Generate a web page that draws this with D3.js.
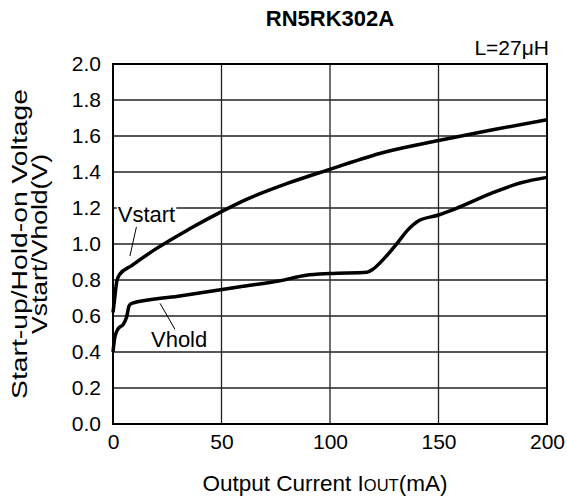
<!DOCTYPE html>
<html><head><meta charset="utf-8">
<script src="https://cdn.jsdelivr.net/npm/d3@7"></script>
<style>body{margin:0;background:#fff}svg{display:block}text{font-family:"Liberation Sans",Arial,Helvetica,sans-serif;fill:#000}</style>
</head><body><svg id="c" width="567" height="503"></svg>
<script>
const xTicks=[0,50,100,150,200];
const yTicks=[0.0,0.2,0.4,0.6,0.8,1.0,1.2,1.4,1.6,1.8,2.0];
const vstartI=[0,0.8,1.7,3,8.6,19.4,34.7,50,60,80,100,125,150,175,200];
const vstartV=[0.62,0.70,0.79,0.83,0.88,0.97,1.08,1.18,1.24,1.335,1.415,1.51,1.575,1.635,1.69];
const vholdI=[0,0.9,2.4,4.8,6.3,7.4,8.6,30,60,77,89,100,117,120,125,131,136,140.7,150,158,174,188,200];
const vholdV=[0.40,0.485,0.53,0.555,0.596,0.655,0.67,0.71,0.765,0.796,0.826,0.836,0.843,0.862,0.92,1.005,1.08,1.128,1.161,1.197,1.28,1.34,1.37];

const svg=d3.select("#c");
const L=113,R=547,T=64,B=424;
const x=d3.scaleLinear().domain([0,200]).range([L,R]);
const y=d3.scaleLinear().domain([0,2]).range([B,T]);

// grid
const g=svg.append("g");
g.selectAll(".gx").data(xTicks.slice(1,-1)).enter().append("line")
 .attr("x1",d=>x(d)).attr("x2",d=>x(d)).attr("y1",T).attr("y2",B).attr("stroke","#222").attr("stroke-width",1.3);
g.selectAll(".gy").data(yTicks.slice(1,-1)).enter().append("line")
 .attr("y1",d=>y(d)).attr("y2",d=>y(d)).attr("x1",L).attr("x2",R).attr("stroke","#222").attr("stroke-width",1.3);

// axes
const ax=svg.append("g").attr("transform",`translate(0,${B})`).call(d3.axisBottom(x).tickValues(xTicks).tickSize(0).tickPadding(10).tickFormat(d3.format("d")));
ax.select(".domain").remove();
ax.selectAll("text").style("font-size","21px").attr("dy","0.71em");
const ay=svg.append("g").attr("transform",`translate(${L},0)`).call(d3.axisLeft(y).tickValues(yTicks).tickSize(0).tickPadding(12).tickFormat(d3.format(".1f")));
ay.select(".domain").remove();
ay.selectAll("text").style("font-size","21px");

const line=d3.line().x(d=>x(d[0])).y(d=>y(d[1])).curve(d3.curveMonotoneX);
svg.append("path").datum(vstartI.map((v,i)=>[v,vstartV[i]])).attr("d",line).attr("fill","none").attr("stroke","#000").attr("stroke-width",3.5).attr("stroke-linejoin","round");
svg.append("path").datum(vholdI.map((v,i)=>[v,vholdV[i]])).attr("d",line).attr("fill","none").attr("stroke","#000").attr("stroke-width",3.5).attr("stroke-linejoin","round");

// frame
svg.append("rect").attr("x",L).attr("y",T).attr("width",R-L).attr("height",B-T).attr("fill","none").attr("stroke","#000").attr("stroke-width",2);

// annotations
function label(txt,tx,ty,lx1,ly1,lx2,ly2){
  svg.append("line").attr("x1",lx1).attr("y1",ly1).attr("x2",lx2).attr("y2",ly2).attr("stroke","#000").attr("stroke-width",1);
  const lg=svg.append("g");
  const bg=lg.append("rect").attr("fill","#fff");
  const t=lg.append("text").attr("x",tx).attr("y",ty).style("font-size","22px").text(txt);
  const bb=t.node().getBBox();
  bg.attr("x",bb.x-1).attr("y",bb.y+3).attr("width",bb.width+2).attr("height",bb.height-5);
}
label("Vstart",x(2.2),y(1.12),x(10.8),y(1.095),x(7.8),y(0.933));
label("Vhold",x(17.5),y(0.43),x(21.7),y(0.67),x(28.6),y(0.525));

// titles
svg.append("text").attr("x",(L+R)/2).attr("y",26).attr("text-anchor","middle").style("font-size","22px").style("font-weight","bold").text("RN5RK302A");
svg.append("text").attr("x",549).attr("y",55).attr("text-anchor","end").style("font-size","21px").text("L=27μH");
const xt=svg.append("text").attr("x",325).attr("y",491).attr("text-anchor","middle").style("font-size","22.5px");
xt.append("tspan").text("Output Current I");
xt.append("tspan").style("font-size","16.5px").text("OUT");
xt.append("tspan").text("(mA)");
const yt=svg.append("g").attr("transform",`translate(27,${(T+B)/2}) rotate(-90)`);
yt.append("text").attr("x",0).attr("y",0).attr("text-anchor","middle").style("font-size","22px")
  .attr("textLength",310).attr("lengthAdjust","spacingAndGlyphs").text("Start-up/Hold-on Voltage");
yt.append("text").attr("x",0).attr("y",20).attr("text-anchor","middle").style("font-size","22px")
  .attr("textLength",180).attr("lengthAdjust","spacingAndGlyphs").text("Vstart/Vhold(V)");
</script></body></html>
